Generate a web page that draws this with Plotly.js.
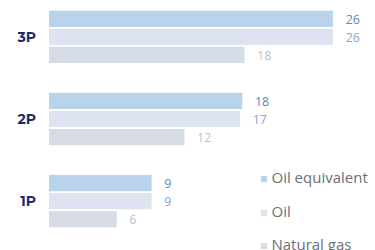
<!DOCTYPE html>
<html>
<head>
<meta charset="utf-8">
<script src="https://cdn.plot.ly/plotly-3.0.1.min.js"></script>
<style>html,body{margin:0;padding:0;background:#fff;}#chart{width:375px;height:250px;}</style>
</head>
<body>
<div id="chart"></div>
<script>
const categories = ['3P', '2P', '1P'];
const seriesNames = ['Oil equivalent', 'Oil', 'Natural gas'];
const oilEquivalent = [26.0, 17.7, 9.4];
const oil = [26.0, 17.5, 9.4];
const naturalGas = [17.9, 12.4, 6.2];
const oilEquivalentLabels = ['26', '18', '9'];
const oilLabels = ['26', '17', '9'];
const naturalGasLabels = ['18', '12', '6'];

const barColors = ['#bad3ec', '#dde3f0', '#d6dce6'];
const labelColors = ['#5a87c2', '#8ca5cf', '#bbbfd6'];
const values = [oilEquivalent, oil, naturalGas];
const labels = [oilEquivalentLabels, oilLabels, naturalGasLabels];

const FONT = 'Open Sans, Lato, sans-serif';
const pad = s => '\u00a0\u00a0\u00a0' + s;

const traces = seriesNames.map((name, i) => ({
  type: 'bar',
  orientation: 'h',
  name: name,
  y: categories,
  x: values[i],
  text: labels[i].map(pad),
  textposition: 'outside',
  cliponaxis: false,
  textfont: {family: FONT, size: 14.5, color: labelColors[i]},
  marker: {color: barColors[i]},
  hoverinfo: 'none',
  showlegend: false
}));

const legendY = [0.258, 0.115, -0.027];
const annotations = seriesNames.map((name, i) => ({
  xref: 'paper', yref: 'paper',
  x: 0.642, y: legendY[i],
  xanchor: 'left', yanchor: 'middle',
  showarrow: false,
  text: '<span style="color:' + barColors[i] + ';font-size:12.5px">■</span> ' + name,
  font: {family: FONT, size: 15, color: '#6b7079'}
}));

const layout = {
  width: 375, height: 250,
  margin: {l: 49, r: 0, t: 0, b: 12},
  paper_bgcolor: '#fff', plot_bgcolor: '#fff',
  barmode: 'group',
  bargap: 0.34,
  bargroupgap: 0.1,
  xaxis: {range: [0, 29.85], visible: false, fixedrange: true},
  yaxis: {
    type: 'category',
    range: [2.45, -0.45],
    showgrid: false, zeroline: false, showline: false, ticks: '',
    ticklabelstandoff: 12,
    tickfont: {family: 'Montserrat, "Open Sans", sans-serif', size: 14, color: '#1b2d6b', weight: 'bold'}
  },
  annotations: annotations,
  showlegend: false
};

Plotly.newPlot('chart', traces, layout, {displayModeBar: false, staticPlot: true});
</script>
</body>
</html>
